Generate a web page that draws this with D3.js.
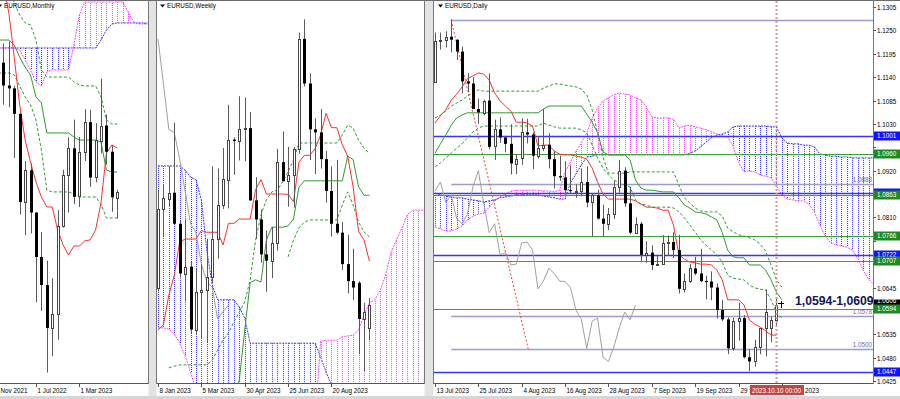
<!DOCTYPE html>
<html lang="en">
<head>
<meta charset="UTF-8">
<title>EURUSD Monthly / Weekly / Daily</title>
<script src="https://cdn.jsdelivr.net/npm/d3@7/dist/d3.min.js"></script>
<style>
  body { margin: 0; background: #fff; }
  svg { display: block; }
  text { font-family: "Liberation Sans", Arial, sans-serif; }
</style>
</head>
<body>
<div id="chart"></div>
<script>
// ---- monthly (Nov 2021 .. Oct 2023) ----
var monthTicks = [[0, "1 Nov 2021"], [8, "1 Jul 2022"], [16, "1 Mar 2023"]];
var mOpen  = [1.1560,1.1338,1.1370,1.1235,1.1218,1.1067,1.0545,1.0733,1.0483,1.0220,1.0054,0.9800,0.9883,1.0404,1.0705,1.0863,1.0576,1.0839,1.1018,1.0690,1.0910,1.0998,1.0843,1.0573];
var mHigh  = [1.1614,1.1386,1.1483,1.1495,1.1233,1.1076,1.0787,1.0773,1.0486,1.0368,1.0198,1.0094,1.0497,1.0736,1.0929,1.1033,1.0930,1.1095,1.1092,1.1012,1.1276,1.1064,1.0882,1.0617];
var mLow   = [1.1186,1.1222,1.1121,1.1106,1.0806,1.0471,1.0349,1.0359,0.9952,0.9901,0.9536,0.9632,0.9730,1.0393,1.0483,1.0533,1.0516,1.0788,1.0635,1.0662,1.0833,1.0766,1.0488,1.0448];
var mClose = [1.1338,1.1370,1.1235,1.1218,1.1067,1.0545,1.0733,1.0483,1.0220,1.0054,0.9800,0.9883,1.0404,1.0705,1.0863,1.0576,1.0839,1.1018,1.0690,1.0910,1.0998,1.0843,1.0573,1.0606];
var mTenkan = [null,null,1.1830,1.1664,1.1400,1.1119,1.0912,1.0782,1.0664,1.0575,1.0516,1.0516,1.0380,1.0291,1.0232,1.0285,1.0285,1.0315,1.0321,1.0380,1.0540,1.0835,1.0883,1.0865];
var mKijun  = [1.1504,1.1504,1.1504,1.1504,1.1474,1.1403,1.1344,1.1297,1.1167,1.1131,1.0954,1.0954,1.0954,1.0954,1.0954,1.0930,1.0912,1.0912,1.0912,1.0912,1.0900,1.0735,1.0723,1.0723];
var mDashA  = [null,null,null,1.1800,1.1723,1.1652,1.1605,1.1593,1.1504,1.1327,1.1285,1.1285,1.1285,1.1285,1.1285,1.1256,1.1238,1.1232,1.1232,1.1232,1.1167,1.1031,1.1007,1.1007];
var mDashB  = [null,1.1309,1.1309,1.1309,1.1297,1.1232,1.1167,1.1119,1.1031,1.0853,1.0616,1.0605,1.0605,1.0605,1.0605,1.0593,1.0575,1.0575,1.0575,1.0575,1.0534,1.0451,1.0451,1.0451];
var mCloudBlue = [1.1457,1.1457,1.1457,1.1457,1.1457,1.1457,1.1457,1.1457,1.1457,1.1457,1.1457,1.1457,1.1457,1.1457,1.1457,1.1457,1.1457,1.1457,1.1457,1.1457,1.1504,1.1563,1.1599,1.1605,1.1605,1.1605,1.1605,1.1605,1.1605,1.1605];
var mCloudMag  = [1.1457,1.1457,1.1457,1.1457,1.1457,1.1445,1.1386,1.1327,1.1256,1.1232,1.1315,1.1327,1.1327,1.1327,1.1327,1.1474,1.1652,1.1729,1.1729,1.1729,1.1729,1.1729,1.1729,1.1729,1.1729,1.1670,1.1611,1.1599,1.1599,1.1599];

// ---- weekly (8 Jan 2023 .. 8 Oct 2023) ----
var weekTicks = [[0, "8 Jan 2023"], [8, "5 Mar 2023"], [16, "30 Apr 2023"], [24, "25 Jun 2023"], [32, "20 Aug 2023"]];
var wOpen  = [1.0645,1.0830,1.0855,1.0868,1.0795,1.0678,1.0694,1.0546,1.0635,1.0640,1.0670,1.0760,1.0839,1.0900,1.0993,1.0990,1.1018,1.1020,1.0850,1.0805,1.0723,1.0708,1.0750,1.0940,1.0895,1.0910,1.0970,1.1230,1.1125,1.1017,1.1010,1.0947,1.0872,1.0795,1.0774,1.0700,1.0660,1.0656,1.0571,1.0550];
var wHigh  = [1.0875,1.0887,1.0929,1.1033,1.0803,1.0805,1.0705,1.0691,1.0700,1.0760,1.0930,1.0925,1.0973,1.1075,1.0998,1.1095,1.1092,1.1058,1.0904,1.0828,1.0779,1.0787,1.0971,1.1012,1.0976,1.0975,1.1245,1.1276,1.1149,1.1043,1.1065,1.0966,1.0930,1.0945,1.0799,1.0769,1.0736,1.0660,1.0609,1.0620];
var wLow   = [1.0636,1.0766,1.0835,1.0794,1.0669,1.0613,1.0536,1.0533,1.0524,1.0516,1.0655,1.0713,1.0830,1.0831,1.0910,1.0944,1.0942,1.0849,1.0759,1.0703,1.0635,1.0667,1.0732,1.0897,1.0835,1.0833,1.0960,1.1118,1.0945,1.0912,1.0925,1.0845,1.0765,1.0770,1.0686,1.0631,1.0615,1.0488,1.0448,1.0521];
var wClose = [1.0830,1.0855,1.0868,1.0795,1.0678,1.0694,1.0546,1.0635,1.0640,1.0670,1.0760,1.0839,1.0900,1.0993,1.0990,1.1018,1.1020,1.0850,1.0805,1.0723,1.0708,1.0750,1.0940,1.0895,1.0910,1.0970,1.1230,1.1125,1.1017,1.1010,1.0947,1.0872,1.0795,1.0774,1.0700,1.0660,1.0645,1.0571,1.0588,1.0604];
var wTenkan = [1.0545,1.0557,1.0627,1.0674,1.0752,1.0759,1.0759,1.0759,1.0779,1.0775,1.0775,1.0775,1.0745,1.0796,1.0796,1.0806,1.0806,1.0806,1.0875,1.0899,1.0865,1.0865,1.0865,1.0865,1.0864,1.0847,1.0940,1.0956,1.0956,1.0972,1.1004,1.1055,1.1021,1.1021,1.0981,1.0954,1.0882,1.0777,1.0757,1.0707];
var wKijun  = [null,null,null,null,null,null,null,null,null,null,null,null,null,null,1.0390,1.0427,1.0545,1.0656,1.0663,1.0658,1.0757,1.0787,1.0787,1.0787,1.0790,1.0806,1.0881,1.0896,1.0896,1.0896,1.0896,1.0896,1.0896,1.0896,1.0896,1.0954,1.0946,1.0882,1.0862,1.0862];
var wDash1  = [null,null,1.0456,1.0460,1.0463,1.0463,1.0463,1.0463,1.0463,1.0463,1.0474,1.0498,1.0521,1.0538,1.0564,1.0587,1.0611,1.0663,1.0757,1.0816,1.0851,1.0870,1.0874,1.0893,1.0917,1.0945,1.0985,1.0985,1.0985,1.0985,1.0985,1.0985,1.0985,1.0985,1.1004,1.1027,1.1020,1.0992,1.0973,1.0961];
var wDash2  = [null,null,null,null,null,null,null,null,null,null,null,null,null,null,null,null,null,null,null,null,null,null,null,null,1.0717,1.0757,1.0785,1.0799,1.0804,1.0804,1.0804,1.0804,1.0804,1.0804,1.0839,1.0870,1.0839,1.0799,1.0776,1.0764];
var wCloudBlue = [1.0931,1.0931,1.0931,1.0931,1.0931,1.0921,1.0905,1.0898,1.0851,1.0733,1.0651,1.0616,1.0616,1.0616,1.0616,1.0599,1.0573,1.0514,1.0514,1.0514,1.0514,1.0514,1.0514,1.0514,1.0514,1.0514,1.0514,1.0514,1.0514,1.0514,1.0481,1.0446,1.0416,1.0380,1.0380,1.0380,1.0380,1.0380,1.0380,1.0380,1.0380,1.0380,1.0380,1.0380,1.0380,1.0380,1.0380,1.0380,1.0380,1.0380];
var wCloudMag  = [1.0550,1.0550,1.0547,1.0536,1.0514,1.0484,1.0446,1.0404,1.0333,1.0333,1.0333,1.0333,1.0333,1.0333,1.0333,1.0333,1.0333,1.0333,1.0333,1.0333,1.0333,1.0333,1.0333,1.0333,1.0333,1.0333,1.0333,1.0333,1.0333,1.0333,1.0519,1.0521,1.0521,1.0521,1.0529,1.0531,1.0533,1.0545,1.0580,1.0609,1.0616,1.0639,1.0674,1.0729,1.0757,1.0785,1.0816,1.0827,1.0827,1.0827];

// ---- daily (13 Jul 2023 .. 10 Oct 2023) ----
var dayTicks = [[0, "13 Jul 2023"], [8, "25 Jul 2023"], [16, "4 Aug 2023"], [24, "16 Aug 2023"], [32, "28 Aug 2023"], [40, "7 Sep 2023"], [48, "19 Sep 2023"], [56, "29 Sep 2023"], [64, "11 Oct 2023"]];
var dOpen  = [1.1129,1.1225,1.1228,1.1235,1.1228,1.1200,1.1130,1.1125,1.1065,1.1057,1.1085,1.0976,1.1017,1.0998,1.0983,1.0937,1.0948,1.1010,1.1005,1.0955,1.0973,1.0981,1.0947,1.0907,1.0904,1.0874,1.0872,1.0872,1.0893,1.0845,1.0862,1.0807,1.0795,1.0818,1.0882,1.0920,1.0843,1.0774,1.0795,1.0722,1.0727,1.0698,1.0700,1.0750,1.0752,1.0733,1.0642,1.0660,1.0690,1.0678,1.0660,1.0659,1.0645,1.0592,1.0570,1.0502,1.0566,1.0573,1.0481,1.0471,1.0505,1.0550,1.0550,1.0569];
var dHigh  = [1.1245,1.1245,1.1248,1.1276,1.1229,1.1212,1.1150,1.1140,1.1089,1.1087,1.1149,1.1040,1.1045,1.1002,1.1029,1.0958,1.1043,1.1042,1.1010,1.1001,1.1065,1.1008,1.0966,1.0955,1.0942,1.0932,1.0888,1.0925,1.0930,1.0866,1.0875,1.0840,1.0832,1.0896,1.0945,1.0928,1.0882,1.0810,1.0799,1.0754,1.0744,1.0720,1.0768,1.0767,1.0775,1.0769,1.0678,1.0700,1.0717,1.0736,1.0673,1.0683,1.0655,1.0616,1.0575,1.0574,1.0609,1.0580,1.0500,1.0522,1.0548,1.0641,1.0576,1.0618];
var dLow   = [1.1128,1.1205,1.1210,1.1198,1.1180,1.1102,1.1105,1.1065,1.1030,1.1050,1.0970,1.0945,1.0985,1.0963,1.0911,1.0912,1.0934,1.0984,1.0924,1.0948,1.0966,1.0925,1.0878,1.0896,1.0865,1.0866,1.0856,1.0860,1.0834,1.0765,1.0805,1.0765,1.0780,1.0806,1.0868,1.0835,1.0770,1.0771,1.0706,1.0703,1.0686,1.0696,1.0700,1.0719,1.0714,1.0631,1.0633,1.0656,1.0674,1.0658,1.0617,1.0615,1.0572,1.0566,1.0488,1.0496,1.0520,1.0478,1.0448,1.0459,1.0488,1.0483,1.0516,1.0555];
var dClose = [1.1225,1.1228,1.1235,1.1228,1.1200,1.1130,1.1125,1.1065,1.1057,1.1085,1.0976,1.1017,1.0998,1.0983,1.0937,1.0948,1.1010,1.1005,1.0955,1.0973,1.0981,1.0947,1.0907,1.0904,1.0874,1.0872,1.0872,1.0893,1.0845,1.0862,1.0807,1.0795,1.0818,1.0882,1.0920,1.0843,1.0774,1.0795,1.0722,1.0727,1.0698,1.0700,1.0750,1.0752,1.0733,1.0642,1.0660,1.0690,1.0678,1.0660,1.0659,1.0645,1.0592,1.0570,1.0502,1.0566,1.0573,1.0481,1.0471,1.0505,1.0550,1.0587,1.0569,1.0604];
var dTenkan = [1.1032,1.1049,1.1063,1.1086,1.1100,1.1117,1.1136,1.1143,1.1150,1.1147,1.1133,1.1103,1.1084,1.1072,1.1060,1.1034,1.1034,1.1032,1.1025,1.0978,1.0980,1.0980,1.0966,1.0959,1.0957,1.0957,1.0954,1.0952,1.0947,1.0926,1.0893,1.0865,1.0853,1.0853,1.0853,1.0853,1.0853,1.0849,1.0841,1.0834,1.0834,1.0832,1.0827,1.0827,1.0792,1.0722,1.0712,1.0705,1.0703,1.0700,1.0700,1.0698,1.0686,1.0663,1.0616,1.0616,1.0616,1.0604,1.0569,1.0559,1.0552,1.0543,1.0533,1.0533];
var dKijun  = [1.0961,1.0983,1.1004,1.1027,1.1044,1.1051,1.1056,1.1056,1.1056,1.1056,1.1056,1.1056,1.1056,1.1056,1.1056,1.1056,1.1056,1.1056,1.1056,1.1056,1.1065,1.1072,1.1072,1.1072,1.1072,1.1072,1.1072,1.1072,1.1053,1.1034,1.1009,1.0964,1.0957,1.0957,1.0957,1.0957,1.0945,1.0898,1.0879,1.0874,1.0874,1.0872,1.0870,1.0870,1.0870,1.0856,1.0839,1.0832,1.0823,1.0821,1.0818,1.0811,1.0804,1.0774,1.0733,1.0717,1.0715,1.0715,1.0698,1.0698,1.0698,1.0686,1.0663,1.0634,1.0616];
var dDashU  = [1.1044,1.1051,1.1060,1.1072,1.1079,1.1086,1.1096,1.1103,1.1110,1.1107,1.1107,1.1107,1.1107,1.1107,1.1107,1.1107,1.1107,1.1107,1.1107,1.1107,1.1114,1.1119,1.1124,1.1124,1.1121,1.1119,1.1117,1.1112,1.1098,1.1063,1.1009,1.0952,1.0914,1.0914,1.0914,1.0914,1.0917,1.0917,1.0917,1.0917,1.0917,1.0917,1.0917,1.0917,1.0917,1.0886,1.0856,1.0844,1.0832,1.0825,1.0823,1.0823,1.0823,1.0813,1.0785,1.0776,1.0769,1.0766,1.0762,1.0757,1.0747,1.0731,1.0698,1.0663,1.0646];
var dDashL  = [1.0929,1.0938,1.0950,1.0961,1.0973,1.0983,1.0997,1.1011,1.1020,1.1025,1.1025,1.1025,1.1025,1.1025,1.1025,1.1025,1.1025,1.1025,1.1025,1.1025,1.1032,1.1027,1.1023,1.1020,1.1020,1.1020,1.1020,1.1016,1.1009,1.0980,1.0950,1.0926,1.0910,1.0898,1.0891,1.0886,1.0881,1.0851,1.0841,1.0839,1.0834,1.0834,1.0834,1.0834,1.0832,1.0823,1.0809,1.0792,1.0776,1.0757,1.0745,1.0733,1.0722,1.0705,1.0674,1.0667,1.0665,1.0663,1.0651,1.0644,1.0641,1.0639,1.0616,1.0587,1.0573];
var dCloudBlue = [1.0867,1.0863,1.0860,1.0858,1.0856,1.0856,1.0853,1.0851,1.0849,1.0846,1.0849,1.0851,1.0856,1.0858,1.0860,1.0863,1.0863,1.0863,1.0863,1.0863,1.0860,1.0858,1.0856,1.0853,1.0853,1.0891,1.0912,1.0933,1.0952,1.0954,1.0957,1.0957,1.0957,1.0957,1.0957,1.0957,1.0957,1.0957,1.0957,1.0957,1.0957,1.0957,1.0957,1.0957,1.0957,1.0957,1.0957,1.0961,1.0966,1.0976,1.0987,1.0997,1.1004,1.1006,1.1011,1.1023,1.1025,1.1025,1.1025,1.1025,1.1025,1.1025,1.1023,1.1023,1.0997,1.0985,1.0983,1.0983,1.0980,1.0980,1.0976,1.0959,1.0957,1.0954,1.0954,1.0952,1.0952,1.0950,1.0950,1.0950,1.0950,1.0950];
var dCloudMag  = [1.0787,1.0783,1.0778,1.0778,1.0783,1.0790,1.0804,1.0813,1.0818,1.0820,1.0834,1.0849,1.0858,1.0865,1.0872,1.0874,1.0874,1.0874,1.0874,1.0874,1.0872,1.0872,1.0870,1.0874,1.0917,1.0940,1.0966,1.0985,1.1009,1.1044,1.1067,1.1084,1.1091,1.1098,1.1103,1.1100,1.1098,1.1091,1.1086,1.1070,1.1046,1.1044,1.1044,1.1044,1.1041,1.1020,1.1025,1.1027,1.1023,1.1020,1.1016,1.1011,1.1006,1.1001,1.0999,1.0978,1.0940,1.0917,1.0919,1.0917,1.0910,1.0907,1.0903,1.0884,1.0863,1.0853,1.0851,1.0849,1.0849,1.0841,1.0823,1.0792,1.0766,1.0750,1.0745,1.0743,1.0740,1.0733,1.0714,1.0686,1.0665,1.0651];

var priceTicks  = [1.1305,1.1250,1.1195,1.1140,1.1085,1.1030,1.0975,1.0920,1.0865,1.0810,1.0755,1.0700,1.0645,1.0590,1.0535,1.0480,1.0425];
var blueLevels  = [1.1001, 1.0868, 1.0722, 1.0447];
var greenLevels = [1.0960, 1.0863, 1.0766, 1.0707, 1.0594];
var fiboLevels  = [1.1274, 1.0888, 1.0578, 1.0500];
var fiboNames   = ["", "1.0888", "1.0578", "1.0500"];
var trendLine   = [[3, 1.1274], [17.2, 1.0500]];
var lastPrice   = 1.0606;
var rangeText   = "1,0594-1,0609";
var cursorBar   = 63;
var cursorLabel = "2023.10.10 00:00";

// ---------------------------------------------------------------
var svg = d3.select("#chart").append("svg").attr("width", 900).attr("height", 399);
var defs = svg.append("defs");
var fmt = d3.format(".4f");

var BLUE = "#3535ff", MAG = "#ff40ff", RED = "#ff3030", GREEN = "#2f9b2f", CHIKOU = "#a0a0a0";

function makePanel(id, left, right, xDom, xRng, yDom, yRng) {
    defs.append("clipPath").attr("id", "clip-" + id).append("rect")
        .attr("x", left).attr("y", 1).attr("width", right - left).attr("height", 382);
    var g = svg.append("g").attr("clip-path", "url(#clip-" + id + ")");
    return {
        g: g, left: left, right: right,
        x: d3.scaleLinear().domain(xDom).range(xRng),
        y: d3.scaleLinear().domain(yDom).range(yRng)
    };
}

var pm = makePanel("m", 0, 148, [0, 29], [-7.4, 149.8], [1.1741, 0.9474], [0, 383]);
var pw = makePanel("w", 157, 424, [0, 49], [158, 423.6], [1.1305, 1.0425], [7, 381]);
var pd = makePanel("d", 434, 873, [0, 81], [435, 874], [1.1305, 1.0425], [7, 381]);

function lineGen(p) {
    return d3.line().defined(function(v) { return v != null; })
        .x(function(v, i) { return p.x(i); })
        .y(function(v) { return p.y(v); });
}

function drawCloud(p, blue, mag) {
    var g = p.g.append("g");
    blue.forEach(function(b, i) {
        var m = mag[i];
        if (b == null || m == null) return;
        var xx = Math.round(p.x(i)) + 0.5;
        g.append("line").attr("x1", xx).attr("x2", xx)
            .attr("y1", p.y(b)).attr("y2", p.y(m))
            .attr("stroke", b > m ? BLUE : MAG).attr("stroke-dasharray", "1,1");
    });
    [[blue, BLUE], [mag, MAG]].forEach(function(d) {
        g.append("path").attr("d", lineGen(p)(d[0])).attr("fill", "none")
            .attr("stroke", d[1]).attr("stroke-dasharray", "2,1");
    });
}

function drawLine(p, arr, color, dash) {
    p.g.append("path").attr("d", lineGen(p)(arr)).attr("fill", "none")
        .attr("stroke", color).attr("stroke-width", 1)
        .attr("stroke-dasharray", dash || null);
}

function chikou(closes) {
    // lagging span: the close plotted 26 bars back
    return closes.map(function(c, i) { return i + 26 < closes.length ? closes[i + 26] : null; });
}

function drawCandles(p, O, H, L, C) {
    var g = p.g.append("g");
    O.forEach(function(o, i) {
        var n = Math.round(p.x(i)), c = C[i];
        g.append("line").attr("x1", n + 0.5).attr("x2", n + 0.5)
            .attr("y1", p.y(H[i])).attr("y2", p.y(L[i])).attr("stroke", "#5a5a5a");
        var top = p.y(Math.max(o, c)), bot = p.y(Math.min(o, c));
        if (c >= o) {
            g.append("rect").attr("x", n - 0.5).attr("y", Math.round(top) + 0.5)
                .attr("width", 2).attr("height", Math.max(1, Math.round(bot - top)))
                .attr("fill", "#fff").attr("stroke", "#444");
        } else {
            g.append("rect").attr("x", n - 1).attr("y", top)
                .attr("width", 3).attr("height", Math.max(1, bot - top)).attr("fill", "#000");
        }
    });
}

function hline(p, price, x0, color, w) {
    var yy = Math.round(p.y(price)) + 0.5;
    p.g.append("line").attr("x1", x0).attr("x2", p.right).attr("y1", yy).attr("y2", yy)
        .attr("stroke", color).attr("stroke-width", w);
}

// ---------- monthly ----------
drawCloud(pm, mCloudBlue, mCloudMag);
drawLine(pm, mDashA, GREEN, "3,2");
drawLine(pm, mDashB, GREEN, "3,2");
drawLine(pm, mKijun, GREEN);
drawLine(pm, mTenkan, RED);
drawCandles(pm, mOpen, mHigh, mLow, mClose);

// ---------- weekly ----------
drawCloud(pw, wCloudBlue, wCloudMag);
drawLine(pw, chikou(wClose), CHIKOU);
drawLine(pw, wDash1, GREEN, "3,2");
drawLine(pw, wDash2, GREEN, "3,2");
drawLine(pw, wKijun, GREEN);
drawLine(pw, wTenkan, RED);
drawCandles(pw, wOpen, wHigh, wLow, wClose);

// ---------- daily ----------
drawCloud(pd, dCloudBlue, dCloudMag);
fiboLevels.forEach(function(v) { hline(pd, v, pd.x(3), "#9c9cd0", 1.5); });
blueLevels.forEach(function(v) { hline(pd, v, pd.left, BLUE, 1.5); });
greenLevels.forEach(function(v) { hline(pd, v, pd.left, "#3aa03a", 1.2); });
drawLine(pd, chikou(dClose), CHIKOU);
drawLine(pd, dDashU, GREEN, "3,2");
drawLine(pd, dDashL, GREEN, "3,2");
drawLine(pd, dKijun, GREEN);
drawLine(pd, dTenkan, RED);
pd.g.append("line")
    .attr("x1", pd.x(trendLine[0][0])).attr("y1", pd.y(trendLine[0][1]))
    .attr("x2", pd.x(trendLine[1][0])).attr("y2", pd.y(trendLine[1][1]))
    .attr("stroke", "#ff3a3a").attr("stroke-dasharray", "2,2");
drawCandles(pd, dOpen, dHigh, dLow, dClose);

fiboLevels.forEach(function(v, i) {
    if (!fiboNames[i]) return;
    pd.g.append("text").attr("x", 872).attr("y", pd.y(v) - 2).attr("text-anchor", "end")
        .attr("font-size", 6.3).attr("fill", "#6a6aa8").text(fiboNames[i]);
});

var cx = Math.round(pd.x(cursorBar)) + 0.5;
pd.g.append("line").attr("x1", cx).attr("x2", cx).attr("y1", 1).attr("y2", 383)
    .attr("stroke", "#d79a9a").attr("stroke-width", 2).attr("stroke-dasharray", "2,2");

pd.g.append("path").attr("d", "M778,303.5H784M781.5,301V308")
    .attr("stroke", "#000").attr("fill", "none");

svg.append("text").attr("x", 795).attr("y", 305)
    .attr("font-family", "'Liberation Serif', 'Times New Roman', serif")
    .attr("font-weight", "bold").attr("font-size", 12.2).attr("fill", "#14145a")
    .text(rangeText);

// ---------- frames, titles, axes ----------
svg.append("rect").attr("x", 148.5).attr("y", 0).attr("width", 8).attr("height", 399).attr("fill", "#e3e3e3");
svg.append("rect").attr("x", 424.5).attr("y", 0).attr("width", 9).attr("height", 399).attr("fill", "#e3e3e3");
svg.append("line").attr("x1", 0).attr("x2", 900).attr("y1", 0.5).attr("y2", 0.5).attr("stroke", "#6b6b6b");

[[0, 148], [157, 424], [434, 873]].forEach(function(b) {
    svg.append("line").attr("x1", b[0]).attr("x2", b[1]).attr("y1", 383.5).attr("y2", 383.5).attr("stroke", "#555");
    svg.append("line").attr("x1", b[1] + 0.5).attr("x2", b[1] + 0.5).attr("y1", 0).attr("y2", 384).attr("stroke", "#777");
    if (b[0] > 0) svg.append("line").attr("x1", b[0] - 0.5).attr("x2", b[0] - 0.5).attr("y1", 0).attr("y2", 384).attr("stroke", "#777");
});
svg.append("rect").attr("x", 0).attr("y", 396).attr("width", 900).attr("height", 3).attr("fill", "#d6d6d6");

// labels under the cursor box are hidden by it, as in the terminal
defs.append("clipPath").attr("id", "clip-taxis").selectAll("rect")
    .data([[0, 750], [804, 900]]).join("rect")
    .attr("x", function(d) { return d[0]; }).attr("y", 383)
    .attr("width", function(d) { return d[1] - d[0]; }).attr("height", 16);
var taxis = svg.append("g").attr("clip-path", "url(#clip-taxis)");

function timeAxis(p, ticks) {
    ticks.forEach(function(t) {
        var xx = Math.round(p.x(t[0])) + 0.5;
        svg.append("line").attr("x1", xx).attr("x2", xx).attr("y1", 383).attr("y2", 387).attr("stroke", "#555");
        var label = t[1];
        var tx = xx + 1;
        if (tx > 750 && tx < 804) {
            // only the tail after the cursor box is visible
            label = label.slice(label.lastIndexOf(" ") + 1);
            tx = 805;
        } else if (tx < 750 && tx + 31 > 750) {
            label = label.slice(0, 4);
        } else if (tx < 0) {
            label = label.slice(2);
            tx = tx + 6;
        }
        taxis.append("text").attr("x", tx).attr("y", 393).attr("font-size", 6.3).text(label);
    });
}
timeAxis(pm, monthTicks);
timeAxis(pw, weekTicks);
timeAxis(pd, dayTicks);

[[-3, "EURUSD,Monthly"], [160, "EURUSD,Weekly"], [438, "EURUSD,Daily"]].forEach(function(t) {
    svg.append("path").attr("d", "M" + t[0] + ",4.5h5l-2.5,3z").attr("fill", "#000");
    svg.append("text").attr("x", t[0] + 7).attr("y", 8).attr("font-size", 6.3).text(t[1]);
});

var boxed = [lastPrice].concat(blueLevels, greenLevels).map(function(v) { return pd.y(v); });
priceTicks.forEach(function(v) {
    var yy = Math.round(pd.y(v)) + 0.5;
    svg.append("line").attr("x1", 873).attr("x2", 876).attr("y1", yy).attr("y2", yy).attr("stroke", "#555");
    var hidden = boxed.some(function(b) { return Math.abs(b - yy) < 8; });
    if (!hidden) svg.append("text").attr("x", 877).attr("y", yy + 2.3).attr("font-size", 6.3).text(fmt(v));
});

function priceBox(v, bg, withText) {
    var yy = Math.round(pd.y(v));
    svg.append("rect").attr("x", 874).attr("y", yy - 4.5).attr("width", 26).attr("height", 9).attr("fill", bg);
    if (withText) svg.append("text").attr("x", 877).attr("y", yy + 2.3).attr("font-size", 6.3).attr("fill", "#fff").text(fmt(v));
}
priceBox(lastPrice, "#000", false);
svg.append("text").attr("x", 877).attr("y", Math.round(pd.y(lastPrice)) - 1.5)
    .attr("font-size", 6.3).attr("fill", "#fff").text(fmt(lastPrice));
blueLevels.forEach(function(v) { priceBox(v, "#1212ff", v !== 1.0868); });
greenLevels.forEach(function(v) { priceBox(v, "#1f8a1f", true); });

svg.append("rect").attr("x", 750).attr("y", 385).attr("width", 54).attr("height", 10).attr("fill", "#c24646");
svg.append("text").attr("x", cx).attr("y", 392.5).attr("text-anchor", "middle")
    .attr("font-size", 6.3).attr("fill", "#fff").text(cursorLabel);
</script>
</body>
</html>
